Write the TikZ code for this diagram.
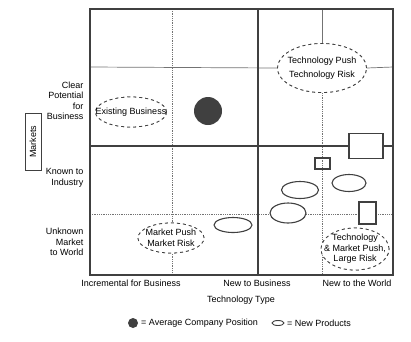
\documentclass[tikz,border=0pt]{standalone}
\usepackage{fontspec}
\setmainfont{Liberation Sans}
\usetikzlibrary{shapes.geometric}
\definecolor{FrameClr}{rgb}{0.25,0.25,0.25}
\definecolor{GridClr}{rgb}{0.45,0.45,0.45}

\begin{document}
\begin{tikzpicture}[x=1pt,y=-1pt,font=\fontsize{9}{10.5}\selectfont,
  frame/.style={line width=1.8pt,color=FrameClr},
  thin grid/.style={line width=0.7pt,color=GridClr},
  dot grid/.style={line width=0.8pt,color=GridClr,densely dotted},
  push/.style={ellipse,draw=FrameClr,dashed,line width=0.8pt,fill=white,inner sep=0pt},
  product/.style={ellipse,draw=FrameClr,line width=1.1pt,fill=white,inner sep=0pt},
  prodbox/.style={rectangle,draw=FrameClr,line width=1.1pt,inner sep=0pt},
  axis label/.style={align=right,anchor=east}]
\useasboundingbox (0,0) rectangle (411,341);

% corners of the grid
\coordinate (TL) at (90,9);
\coordinate (BR) at (393,275);

% ellipses first, so that the grid lines can end on them
\node[push,minimum width=89,minimum height=49] (tp) at (322,68) {};
\node[push,minimum width=71,minimum height=30] (eb) at (131,112) {};
\node[push,minimum width=66,minimum height=30] (mp) at (171,238) {};
\node[push,minimum width=68,minimum height=42] (tm) at (355,249) {};

% grid
\draw[dot grid] (172,9) -- (172,275);
\draw[dot grid] (90,214) -- (393,214);
\draw[thin grid] (90,67) -- (tp.west);
\draw[thin grid] (tp.east) -- (393,67);
\draw[thin grid] (322,9) -- (tp.north);
\draw[dot grid] (tp.south) -- (322,275);
\draw[frame] (258,9) -- (258,275);
\draw[frame] (90,146) -- (393,146);
\draw[frame] (TL) rectangle (BR);

% redraw the ellipses over the grid
\node[push,minimum width=89,minimum height=49] (tp) at (322,68) {};
\node[push,minimum width=71,minimum height=30] (eb) at (131,112) {};
\node[push,minimum width=66,minimum height=30] (mp) at (171,238) {};
\node[push,minimum width=68,minimum height=42] (tm) at (355,249) {};

\node[align=center] (tpText) at (tp) {Technology Push\\[3pt]Technology Risk};
\node (ebText) at (eb) {Existing Business};
\node[align=center] (mpText) at (mp) {Market Push\\Market Risk};
\node[align=center] (tmText) at (tm) {Technology\\\&\ Market Push,\\Large Risk};

% average company position
\fill[FrameClr] (208,111) circle (14) coordinate (avg);

% new products
\node[product,minimum width=37,minimum height=17] (np1) at (300,190) {};
\node[product,minimum width=34,minimum height=17] (np2) at (349,183) {};
\node[product,minimum width=36,minimum height=20] (np3) at (288,213) {};
\node[product,minimum width=38,minimum height=15] (np4) at (233,225) {};
\node[prodbox,fill=white,minimum width=34,minimum height=25] (nb1) at (366,146) {};
\node[prodbox,minimum width=15,minimum height=11] (nb2) at (322.5,163.5) {};
\node[prodbox,fill=white,minimum width=17,minimum height=22] (nb3) at (367.5,213) {};

% axis labels
\node[axis label] (clear) at (87,101) {Clear\\Potential\\for\\Business};
\node[axis label] (known) at (87,178) {Known to\\Industry};
\node[axis label] (unknown) at (87,242) {Unknown\\Market\\to World};
\node[draw=FrameClr,line width=0.8pt,rotate=90,minimum width=57,minimum height=16,inner sep=0pt] (mkt) at (33,141.5) {Markets};

\node (incr) at (131,283) {Incremental for Business};
\node (newbus) at (257,283) {New to Business};
\node (newworld) at (357,283) {New to the World};
\node (ttype) at (241,300) {Technology Type};

% legend
\fill[FrameClr] (133,323) circle (5) coordinate (legDot);
\node[anchor=west,inner sep=1pt] (legAvg) at (140,323) {= Average Company Position};
\node[product,line width=0.9pt,minimum width=12,minimum height=5] (legNP) at (278,323) {};
\node[anchor=west,inner sep=1pt] (legNew) at (286,323) {= New Products};

\end{tikzpicture}
\end{document}
